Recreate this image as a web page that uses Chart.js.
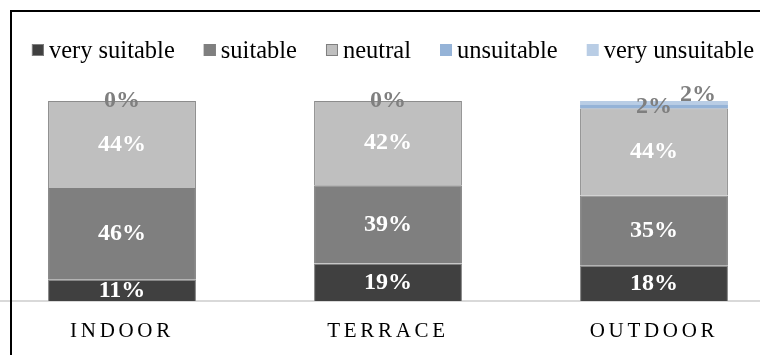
<!DOCTYPE html>
<html>
<head>
<meta charset="utf-8">
<script src="https://cdn.jsdelivr.net/npm/chart.js@4.4.1/dist/chart.umd.min.js"></script>
<style>
html, body { margin: 0; padding: 0; background: #fff; overflow: hidden; width: 760px; height: 355px; }
#wrap { position: absolute; left: -11px; top: 0; width: 798px; height: 355px; }
#frame { position: absolute; left: 10px; top: 10px; width: 790px; height: 380px; border: 2px solid #000; box-sizing: border-box; }
</style>
</head>
<body>
<div id="wrap"><canvas id="canvas" width="798" height="355"></canvas></div>
<div id="frame"></div>
<script>
// data (percent of answers)
var categories = ['INDOOR', 'TERRACE', 'OUTDOOR'];
var seriesNames = ['very suitable', 'suitable', 'neutral', 'unsuitable', 'very unsuitable'];
var verySuitable = [10.6, 18.7, 17.6];
var suitable = [45.9, 39.2, 35.2];
var neutral = [43.5, 42.1, 43.5];
var unsuitable = [0, 0, 1.9];
var veryUnsuitable = [0, 0, 1.8];

var fills = ['#404040', '#7f7f7f', '#bfbfbf', '#95b3d7', '#b9cde5'];
var edges = ['#7f7f7f', '#7f7f7f', '#8c8c8c', '#95b3d7', '#b9cde5'];
var serif = '"Liberation Serif", "Times New Roman", serif';

// small labels that Excel pushed aside
var smallOffsets = { 4: [44, -8] };

var barLabels = {
    id: 'barLabels',
    afterDatasetsDraw: function (chart) {
        var ctx = chart.ctx;
        ctx.save();
        ctx.letterSpacing = '0px';
        ctx.font = 'bold 24px ' + serif;
        ctx.textAlign = 'center';
        ctx.textBaseline = 'middle';
        chart.data.datasets.forEach(function (ds, i) {
            var meta = chart.getDatasetMeta(i);
            meta.data.forEach(function (bar, j) {
                var v = ds.data[j];
                if (i === 4 && v === 0) return;
                var off = (smallOffsets[i] && v > 0) ? smallOffsets[i] : [0, 0];
                ctx.fillStyle = v < 5 ? '#7f7f7f' : '#ffffff';
                ctx.fillText(Math.round(v) + '%', bar.x + off[0], (bar.y + bar.base) / 2 + off[1]);
            });
        });
        ctx.restore();
    }
};

var legendRow = {
    id: 'legendRow',
    afterDraw: function (chart) {
        var ctx = chart.ctx;
        ctx.save();
        ctx.letterSpacing = '0px';
        ctx.font = '24.5px ' + serif;
        var box = 12, gap = 5, space = 29;
        var widths = seriesNames.map(function (n) { return ctx.measureText(n).width; });
        var total = widths.reduce(function (a, w) { return a + box + gap + w; }, 0) + space * (seriesNames.length - 1);
        var x = 404 - total / 2;
        ctx.textBaseline = 'alphabetic';
        ctx.textAlign = 'left';
        seriesNames.forEach(function (n, i) {
            ctx.fillStyle = fills[i];
            ctx.fillRect(x, 44, box, box);
            if (i < 3) {
                ctx.strokeStyle = '#7f7f7f';
                ctx.lineWidth = 1;
                ctx.strokeRect(x + 0.5, 44.5, box - 1, box - 1);
            }
            ctx.fillStyle = '#000';
            ctx.fillText(n, x + box + gap, 58);
            x += box + gap + widths[i] + space;
        });
        ctx.restore();
    }
};

var tickSpacing = {
    id: 'tickSpacing',
    beforeDraw: function (chart) { chart.ctx.letterSpacing = '3.7px'; },
    beforeDatasetsDraw: function (chart) { chart.ctx.letterSpacing = '0px'; }
};

var seriesData = [verySuitable, suitable, neutral, unsuitable, veryUnsuitable];

var config = {
    type: 'bar',
    data: {
        labels: categories,
        datasets: seriesNames.map(function (name, i) {
            return {
                label: name,
                data: seriesData[i],
                backgroundColor: fills[i],
                borderColor: edges[i],
                borderWidth: i < 3 ? 1 : 0,
                barPercentage: 0.556,
                categoryPercentage: 1
            };
        })
    },
    options: {
        responsive: false,
        animation: false,
        layout: { padding: { top: 101, bottom: 13, left: 0, right: 0 } },
        plugins: {
            legend: { display: false },
            tooltip: { enabled: false }
        },
        scales: {
            x: {
                stacked: true,
                grid: { display: false, drawTicks: false },
                border: { display: true, color: '#d9d9d9', width: 2 },
                ticks: { color: '#000', font: { family: serif, size: 21 }, padding: 18 },
                afterFit: function (scale) { scale.height = 41; }
            },
            y: {
                stacked: true,
                display: false,
                min: 0,
                max: 100
            }
        }
    },
    plugins: [tickSpacing, barLabels, legendRow]
};

window.myBars = new Chart(document.getElementById('canvas'), config);
</script>
</body>
</html>
